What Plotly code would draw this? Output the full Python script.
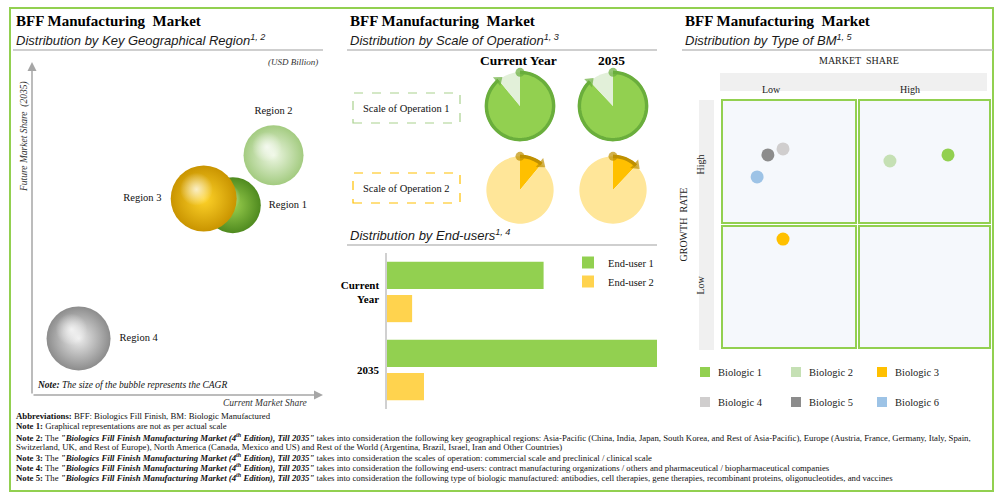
import plotly.graph_objects as go

W, H = 1000, 498
def X(px): return px / W
def Y(py): return 1 - py / H

SERIF = "Liberation Serif"
SANS = "Liberation Sans"

# ---------------- data ----------------
regions = ["Region 1", "Region 2", "Region 3", "Region 4"]
current_market_share = [6.9, 8.3, 5.9, 1.6]
future_market_share = [5.7, 7.2, 5.9, 1.7]
cagr = [14.0, 15.0, 16.5, 16.0]
region_edge = ["#4F8A1F", "#A3CB80", "#C99400", "#8C8C8C"]
region_center = ["#9BD04F", "#EEF7E4", "#FFD42A", "#EDEDED"]
region_textpos = ["middle right", "top center", "middle left", "middle right"]

pie_years = ["Current Year", "2035"]
scale_labels = ["Scale of Operation 1", "Scale of Operation 2"]
scale1_share = [89, 88]
scale2_share = [11, 12]

enduser_years = ["Current Year", "2035"]
enduser1 = [58, 100]
enduser2 = [9.3, 13.7]

biologics = ["Biologic 1", "Biologic 2", "Biologic 3", "Biologic 4", "Biologic 5", "Biologic 6"]
bm_market_share = [8.37, 6.22, 2.26, 2.26, 1.70, 1.30]
bm_growth_rate = [7.74, 7.50, 4.40, 7.98, 7.74, 6.87]
bm_colors = ["#92D050", "#C5E0B4", "#FFC000", "#D0CECE", "#8C8C8C", "#9DC3E6"]

fig = go.Figure()
shapes = []
ann = []

# ---------------- frame & titles ----------------
shapes.append(dict(type="rect", xref="paper", yref="paper", x0=X(10), x1=X(993), y0=Y(491), y1=Y(8),
                   line=dict(color="#92D050", width=2), fillcolor="rgba(0,0,0,0)", layer="below"))
subtitles = ["Distribution by Key Geographical Region<sup><i>1, 2</i></sup>",
             "Distribution by Scale of Operation<sup><i>1, 3</i></sup>",
             "Distribution by Type of BM<sup><i>1, 5</i></sup>"]
for x0, x1, sub in [(14, 323, subtitles[0]), (348, 657, subtitles[1]), (683, 993, subtitles[2])]:
    ann.append(dict(x=X(x0), y=Y(21), xref="paper", yref="paper", xanchor="left", yanchor="middle",
                    text="<b>BFF Manufacturing  Market</b>", showarrow=False,
                    font=dict(family=SERIF, size=15, color="#000000")))
    ann.append(dict(x=X(x0), y=Y(40), xref="paper", yref="paper", xanchor="left", yanchor="middle",
                    text="<i>" + sub + "</i>", showarrow=False,
                    font=dict(family=SANS, size=13, color="#1a1a1a")))
    shapes.append(dict(type="line", xref="paper", yref="paper", x0=X(x0 - 1), x1=X(x1), y0=Y(50), y1=Y(50),
                       line=dict(color="#BFBFBF", width=1.5)))

# ---------------- panel 1: bubbles ----------------
xd0, xd1, yd0, yd1 = 32, 323, 395, 62
fig.update_layout(
    xaxis=dict(domain=[X(xd0), X(xd1)], range=[0, 10], visible=False, fixedrange=True),
    yaxis=dict(domain=[Y(yd0), Y(yd1)], range=[0, 10], visible=False, fixedrange=True),
)
px_per_x = (xd1 - xd0) / 10
px_per_y = (yd0 - yd1) / 10
size_scale = 4.0
for i in [3, 1, 0, 2]:
    d = cagr[i] * size_scale
    fig.add_trace(go.Scatter(
        x=[current_market_share[i]], y=[future_market_share[i]], mode="markers+text",
        text=[regions[i]], textposition=region_textpos[i],
        textfont=dict(family=SERIF, size=10.5, color="#111111"),
        marker=dict(size=d, color=region_edge[i], line=dict(width=0),
                    gradient=dict(type="radial", color=region_center[i])),
        showlegend=False, hoverinfo="skip", xaxis="x", yaxis="y"))
    fig.add_trace(go.Scatter(
        x=[current_market_share[i] - 0.22 * d / 2 / px_per_x],
        y=[future_market_share[i] + 0.28 * d / 2 / px_per_y], mode="markers",
        marker=dict(size=d * 0.5, color="rgba(255,255,255,0)", line=dict(width=0),
                    gradient=dict(type="radial", color="rgba(255,255,255,0.75)")),
        showlegend=False, hoverinfo="skip", xaxis="x", yaxis="y"))

# axis arrows
ann.append(dict(x=X(xd1), y=Y(yd0), xref="paper", yref="paper", ax=-(xd1 - xd0), ay=0,
                showarrow=True, arrowhead=2, arrowsize=1.2, arrowwidth=1.5, arrowcolor="#A6A6A6", text=""))
ann.append(dict(x=X(xd0), y=Y(yd1), xref="paper", yref="paper", ax=0, ay=(yd0 - yd1),
                showarrow=True, arrowhead=2, arrowsize=1.2, arrowwidth=1.5, arrowcolor="#A6A6A6", text=""))
ann.append(dict(x=X(320), y=Y(62), xref="paper", yref="paper", xanchor="right", yanchor="middle",
                text="<i>(USD Billion)</i>", showarrow=False, font=dict(family=SERIF, size=9, color="#333")))
ann.append(dict(x=X(24), y=Y(137), xref="paper", yref="paper", xanchor="center", yanchor="middle",
                text="<i>Future Market Share  (2035)</i>", textangle=-90, showarrow=False,
                font=dict(family=SERIF, size=9.5, color="#333")))
ann.append(dict(x=X(309), y=Y(403), xref="paper", yref="paper", xanchor="right", yanchor="middle",
                text="<i>Current Market Share</i>", showarrow=False, font=dict(family=SERIF, size=9.5, color="#333")))
ann.append(dict(x=X(35), y=Y(385), xref="paper", yref="paper", xanchor="left", yanchor="middle",
                text="<b><i>Note:</i></b><i> The size of the bubble represents the CAGR</i>", showarrow=False,
                font=dict(family=SERIF, size=9.5, color="#111")))

# ---------------- panel 2: pies ----------------
pie_cx = [520, 613]
pie_cy = [106, 190]
rad = 36
pie_styles = [
    dict(main="#92D050", other="#E2F0D9", ring="#6AAE3C"),
    dict(main="#FFC000", other="#FFE699", ring="#BF9000"),
]
polar_layout = {}
k = 0
for row in range(2):
    shares = scale1_share if row == 0 else scale2_share
    st = pie_styles[row]
    for col in range(2):
        k += 1
        pname = "polar" if k == 1 else f"polar{k}"
        cx, cy = pie_cx[col], pie_cy[row]
        polar_layout[pname] = dict(
            domain=dict(x=[X(cx - rad), X(cx + rad)], y=[Y(cy + rad), Y(cy - rad)]),
            bgcolor="rgba(0,0,0,0)",
            radialaxis=dict(visible=False, range=[0, 1.07]),
            angularaxis=dict(visible=False, rotation=90, direction="clockwise"),
        )
        deg = shares[col] * 3.6
        fig.add_trace(go.Barpolar(
            r=[1, 1], theta=[deg / 2, deg + (360 - deg) / 2], width=[deg, 360 - deg], base=0,
            marker=dict(color=[st["main"], st["other"]], line=dict(width=0)),
            subplot=pname, showlegend=False, hoverinfo="skip"))
        n = max(int(deg / 4), 3)
        thetas = [deg * j / n for j in range(n + 1)]
        fig.add_trace(go.Scatterpolar(
            r=[1] * len(thetas), theta=thetas, mode="lines",
            line=dict(color=st["ring"], width=3.5), subplot=pname, showlegend=False, hoverinfo="skip"))
        fig.add_trace(go.Scatterpolar(
            r=[1, 1], theta=[0, deg], mode="markers",
            marker=dict(symbol=["circle", "triangle-up"], size=[9, 10], angle=[0, deg + 90],
                        color=st["ring"], line=dict(width=0)),
            subplot=pname, showlegend=False, hoverinfo="skip"))
fig.update_layout(**polar_layout)

for col in range(2):
    ann.append(dict(x=X(pie_cx[col] - 2), y=Y(61), xref="paper", yref="paper", xanchor="center", yanchor="middle",
                    text="<b>" + pie_years[col] + "</b>", showarrow=False,
                    font=dict(family=SERIF, size=13.5, color="#000")))
box_colors = ["#A9D18E", "#FFC000"]
for row in range(2):
    cy = [108, 188][row]
    shapes.append(dict(type="rect", xref="paper", yref="paper", x0=X(353), x1=X(460), y0=Y(cy + 15), y1=Y(cy - 15),
                       line=dict(color=box_colors[row], width=1.2, dash="dash"), fillcolor="rgba(0,0,0,0)"))
    ann.append(dict(x=X(406), y=Y(cy), xref="paper", yref="paper", xanchor="center", yanchor="middle",
                    text=scale_labels[row], showarrow=False, font=dict(family=SERIF, size=10.5, color="#111")))

# ---------------- panel 2: end-user bars ----------------
ann.append(dict(x=X(348), y=Y(235), xref="paper", yref="paper", xanchor="left", yanchor="middle",
                text="<i>Distribution by End-users<sup>1, 4</sup></i>", showarrow=False,
                font=dict(family=SANS, size=13, color="#1a1a1a")))
shapes.append(dict(type="line", xref="paper", yref="paper", x0=X(347), x1=X(657), y0=Y(245), y1=Y(245),
                   line=dict(color="#BFBFBF", width=1.5)))
fig.add_trace(go.Bar(y=enduser_years, x=enduser1, orientation="h", name="End-user 1",
                     marker=dict(color="#92D050", line=dict(width=0)), xaxis="x2", yaxis="y2", hoverinfo="skip"))
fig.add_trace(go.Bar(y=enduser_years, x=enduser2, orientation="h", name="End-user 2",
                     marker=dict(color="#FFD34E", line=dict(width=0)), xaxis="x2", yaxis="y2", hoverinfo="skip"))
fig.update_layout(
    xaxis2=dict(domain=[X(387), X(657)], range=[0, 100], visible=False, fixedrange=True, anchor="y2"),
    yaxis2=dict(domain=[Y(409), Y(253)], anchor="x2", autorange="reversed", showline=True,
                linecolor="#D0D0D0", linewidth=1.5, ticks="", showgrid=False, zeroline=False,
                tickvals=enduser_years, ticktext=["<b>Current<br>Year</b>", "<b>2035</b>"],
                tickfont=dict(family=SERIF, size=11, color="#000"), ticklabelstandoff=4),
    barmode="group", bargap=0.15, bargroupgap=0.18,
    legend=dict(x=X(568), y=Y(248), xanchor="left", yanchor="top", bgcolor="rgba(0,0,0,0)",
                font=dict(family=SERIF, size=10.5, color="#111"), itemwidth=30, tracegroupgap=0),
)

# ---------------- panel 3: matrix ----------------
ann.append(dict(x=X(859), y=Y(61), xref="paper", yref="paper", xanchor="center", yanchor="middle",
                text="MARKET  SHARE", showarrow=False, font=dict(family=SERIF, size=10, color="#222")))
shapes.append(dict(type="rect", xref="paper", yref="paper", x0=X(720), x1=X(987), y0=Y(91), y1=Y(73),
                   line=dict(width=0), fillcolor="#F0F0F0", layer="below"))
shapes.append(dict(type="rect", xref="paper", yref="paper", x0=X(699), x1=X(714), y0=Y(350), y1=Y(100),
                   line=dict(width=0), fillcolor="#F0F0F0", layer="below"))
ann.append(dict(x=X(783), y=Y(82), xref="paper", yref="paper", text="Low", showarrow=False,
                font=dict(family=SERIF, size=10, color="#222")))
ann.append(dict(x=X(922), y=Y(82), xref="paper", yref="paper", text="High", showarrow=False,
                font=dict(family=SERIF, size=10, color="#222")))
ann.append(dict(x=X(707), y=Y(153), xref="paper", yref="paper", text="High", textangle=-90, showarrow=False,
                font=dict(family=SERIF, size=10, color="#222")))
ann.append(dict(x=X(707), y=Y(285), xref="paper", yref="paper", text="Low", textangle=-90, showarrow=False,
                font=dict(family=SERIF, size=10, color="#222")))
ann.append(dict(x=X(690), y=Y(225), xref="paper", yref="paper", text="GROWTH  RATE", textangle=-90, showarrow=False,
                font=dict(family=SERIF, size=10, color="#222")))
for (qx0, qx1) in [(722, 856), (859, 990)]:
    for (qy0, qy1) in [(100, 223), (226, 348)]:
        shapes.append(dict(type="rect", xref="paper", yref="paper", x0=X(qx0), x1=X(qx1), y0=Y(qy1), y1=Y(qy0),
                           line=dict(color="#92D050", width=2), fillcolor="#F5F8FC", layer="below"))
fig.update_layout(
    xaxis3=dict(domain=[X(722), X(992)], range=[0, 10], visible=False, fixedrange=True, anchor="y3"),
    yaxis3=dict(domain=[Y(350), Y(98)], range=[0, 10], visible=False, fixedrange=True, anchor="x3"),
)
for i in range(len(biologics)):
    fig.add_trace(go.Scatter(x=[bm_market_share[i]], y=[bm_growth_rate[i]], mode="markers", name=biologics[i],
                             marker=dict(size=13, color=bm_colors[i], line=dict(width=0)),
                             xaxis="x3", yaxis="y3", showlegend=False, hoverinfo="skip"))
# matrix legend
leg_x = [700, 791, 877]
leg_y = [372, 402]
for i, name in enumerate(biologics):
    lx = leg_x[i % 3]
    ly = leg_y[i // 3]
    shapes.append(dict(type="rect", xref="paper", yref="paper", x0=X(lx), x1=X(lx + 10), y0=Y(ly + 5), y1=Y(ly - 5),
                       line=dict(width=0), fillcolor=bm_colors[i]))
    ann.append(dict(x=X(lx + 16), y=Y(ly), xref="paper", yref="paper", xanchor="left", yanchor="middle",
                    text=name, showarrow=False, font=dict(family=SERIF, size=10.5, color="#222")))

# ---------------- notes ----------------
title_i = '<b><i>"Biologics Fill Finish Manufacturing Market (4<sup>th</sup> Edition), Till 2035"</i></b>'
notes = [
    "<b>Abbreviations:</b> BFF: Biologics Fill Finish, BM: Biologic Manufactured",
    "<b>Note 1:</b> Graphical representations are not as per actual scale",
    "<b>Note 2:</b> The " + title_i + " takes into consideration the following key geographical regions: Asia-Pacific (China, India, Japan, South Korea, and Rest of Asia-Pacific), Europe (Austria, France, Germany, Italy, Spain,",
    "Switzerland, UK, and Rest of Europe), North America (Canada, Mexico and US) and Rest of the World (Argentina, Brazil, Israel, Iran and Other Countries)",
    "<b>Note 3:</b> The " + title_i + " takes into consideration the scales of operation: commercial scale and preclinical / clinical scale",
    "<b>Note 4:</b> The " + title_i + " takes into consideration the following end-users: contract manufacturing organizations / others and pharmaceutical / biopharmaceutical companies",
    "<b>Note 5:</b> The " + title_i + " takes into consideration the following type of biologic manufactured: antibodies, cell therapies, gene therapies, recombinant proteins, oligonucleotides, and vaccines",
]
note_y = [416, 426, 437, 447, 457, 467, 477]
for t, ny in zip(notes, note_y):
    ann.append(dict(x=X(14), y=Y(ny), xref="paper", yref="paper", xanchor="left", yanchor="middle",
                    text=t, showarrow=False, font=dict(family=SERIF, size=8.75, color="#111")))

fig.update_layout(
    width=W, height=H, margin=dict(l=0, r=0, t=0, b=0, autoexpand=False),
    paper_bgcolor="white", plot_bgcolor="rgba(0,0,0,0)",
    font=dict(family=SERIF), shapes=shapes, annotations=ann, showlegend=True,
)
fig.write_html("out.html", config={"displayModeBar": False},
               post_script="document.body.style.margin='0px';")
